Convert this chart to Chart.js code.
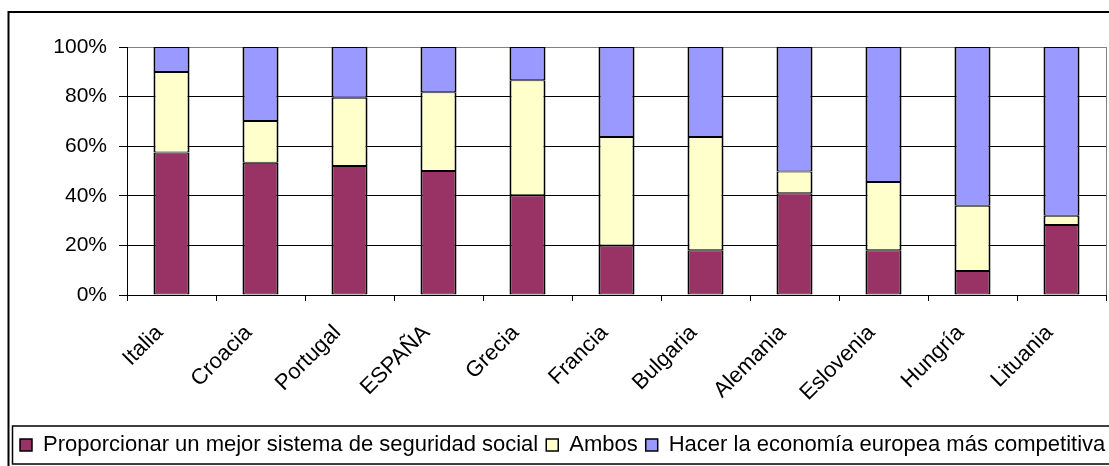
<!DOCTYPE html>
<html>
<head>
<meta charset="utf-8">
<script src="https://cdn.jsdelivr.net/npm/chart.js@4"></script>
<style>
  html, body { margin: 0; padding: 0; background: #fff; overflow: hidden; }
  #wrap { width: 1109px; height: 466px; overflow: hidden; position: relative; }
  #chart { display: block; }
</style>
</head>
<body>
<div id="wrap"><canvas id="chart" width="1130" height="466"></canvas></div>
<script>
// ========== Data ==========
const countries = ['Italia', 'Croacia', 'Portugal', 'ESPAÑA', 'Grecia', 'Francia', 'Bulgaria', 'Alemania', 'Eslovenia', 'Hungría', 'Lituania'];
const seguridadSocial = [57.5, 53.3, 52.0, 50.0, 40.2, 20.0, 18.0, 41.0, 18.0, 9.7, 28.2];
const ambos = [32.4, 16.9, 27.5, 31.8, 46.4, 43.7, 45.7, 8.8, 27.6, 26.3, 3.8];
const competitiva = [10.1, 29.8, 20.5, 18.2, 13.4, 36.3, 36.3, 50.2, 54.4, 64.0, 68.0];
const yTicks = [0, 20, 40, 60, 80, 100];

const FONT = 'Liberation Sans, Arial, sans-serif';

// Outer chart frame + legend frame (Excel-style boxes)
const framePlugin = {
  id: 'frames',
  beforeDraw(chart) {
    const ctx = chart.ctx;
    ctx.save();
    ctx.fillStyle = '#fff';
    ctx.fillRect(0, 0, chart.width, chart.height);
    ctx.strokeStyle = '#000';
    ctx.lineWidth = 2;
    ctx.strokeRect(8.5, 12, 2000, 2000);
    ctx.restore();
  },
  afterDraw(chart) {
    const ctx = chart.ctx;
    const lg = chart.legend;
    ctx.save();
    ctx.strokeStyle = '#000';
    ctx.lineWidth = 1.5;
    ctx.strokeRect(lg.left + 0.5, 426, 2000, 38);
    ctx.restore();
  }
};

function makeDataset(label, data, color) {
  return {
    label: label,
    data: data,
    backgroundColor: color,
    borderColor: '#000',
    borderWidth: { top: 1, bottom: 1, left: 2, right: 2 },
    borderSkipped: false,
    barPercentage: 0.405,
    categoryPercentage: 1
  };
}

new Chart(document.getElementById('chart'), {
  type: 'bar',
  data: {
    labels: countries,
    datasets: [
      makeDataset('Proporcionar un mejor sistema de seguridad social', seguridadSocial, '#993366'),
      makeDataset('Ambos', ambos, '#FFFFCC'),
      makeDataset('Hacer la economía europea más competitiva', competitiva, '#9999FF')
    ]
  },
  options: {
    responsive: false,
    devicePixelRatio: 1,
    animation: false,
    layout: { padding: { top: 47, left: 12, right: 0, bottom: 0 } },
    plugins: {
      tooltip: { enabled: false },
      legend: {
        position: 'bottom',
        align: 'start',
        labels: {
          boxWidth: 12,
          boxHeight: 12,
          padding: 8,
          color: '#000',
          font: { family: FONT, size: 22 }
        }
      }
    },
    scales: {
      x: {
        stacked: true,
        offset: true,
        grid: {
          offset: true,
          drawOnChartArea: true,
          color: c => (c.type === 'tick' ? 'rgba(0,0,0,0)' : '#808080'),
          tickColor: '#000',
          tickLength: 6,
          lineWidth: 1
        },
        border: { color: '#000', width: 1 },
        ticks: {
          color: '#000',
          font: { family: FONT, size: 22 },
          minRotation: 45,
          maxRotation: 45,
          autoSkip: false,
          padding: 19,
          labelOffset: -12
        },
        afterFit: s => { s.height = 131; }
      },
      y: {
        stacked: true,
        min: 0,
        max: 100,
        afterBuildTicks: s => { s.ticks = yTicks.map(v => ({ value: v })); },
        grid: {
          color: c => (c.tick && c.tick.value === 100 ? '#808080' : '#000'),
          tickColor: '#000',
          tickLength: 8,
          lineWidth: 1
        },
        border: { color: '#000', width: 1 },
        ticks: {
          color: '#000',
          padding: 12,
          font: { family: FONT, size: 21 },
          callback: v => v + '%'
        },
        afterFit: s => { s.width = 115; }
      },
      // spacer on the right so the plot ends at x=1106 while the legend keeps room
      yRight: {
        position: 'right',
        display: true,
        grid: { display: false },
        border: { display: false },
        ticks: { display: false },
        afterFit: s => { s.width = 24; }
      }
    }
  },
  plugins: [framePlugin]
});
</script>
</body>
</html>
